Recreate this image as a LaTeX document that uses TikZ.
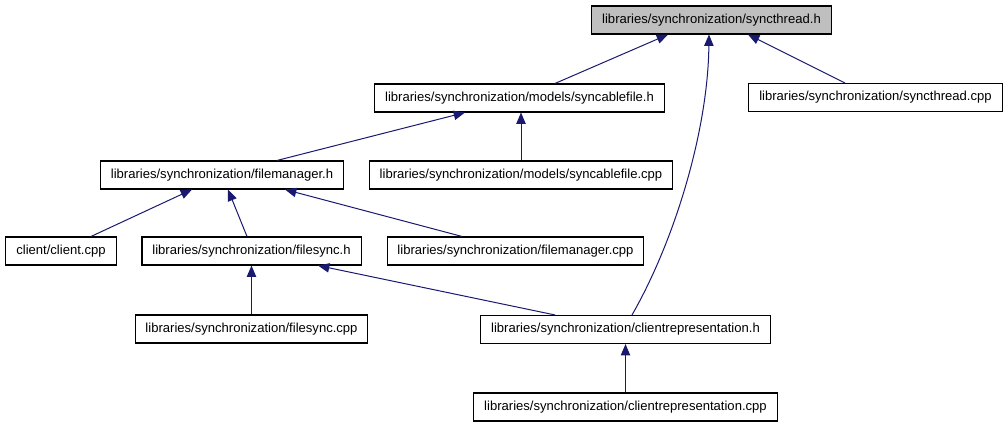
\documentclass[tikz,border=0pt]{standalone}
\usepackage{fontspec}
\setsansfont{Liberation Sans}
\usetikzlibrary{arrows.meta, calc}
\definecolor{dxedge}{HTML}{191970}
\definecolor{dxgray}{HTML}{BFBFBF}

\begin{document}
\begin{tikzpicture}[x=0.75pt, y=-0.75pt,
    file/.style={draw, line width=0.8pt, inner xsep=7.8pt, inner ysep=0pt,
      minimum height=21pt, font=\sffamily\fontsize{9.8}{11}\selectfont},
    incl/.style={draw=dxedge, line width=0.75pt, -{Triangle[length=8.5pt, width=7pt]}}]
    \useasboundingbox (0,0) rectangle (1008,427);

    % Top: the header everything depends on
    \node[file, fill=dxgray] (sth) at (711.5,20) {libraries/synchronization/syncthread.h};

    % Second row
    \node[file] (sfh) at (519.5,98) {libraries/synchronization/models/syncablefile.h};
    \node[file] (stc) at (875.5,97.5) {libraries/synchronization/syncthread.cpp};

    % Third row
    \node[file] (fmh) at (222,175) {libraries/synchronization/filemanager.h};
    \node[file] (sfc) at (521,175) {libraries/synchronization/models/syncablefile.cpp};

    % Fourth row
    \node[file] (cli) at (61,251) {client/client.cpp};
    \node[file] (fsh) at (251.5,251) {libraries/synchronization/filesync.h};
    \node[file] (fmc) at (515.5,251) {libraries/synchronization/filemanager.cpp};

    % Fifth row
    \node[file] (fsc) at (251.5,329) {libraries/synchronization/filesync.cpp};
    \node[file] (crh) at (625.5,329.5) {libraries/synchronization/clientrepresentation.h};

    % Bottom
    \node[file] (crc) at (625.5,407) {libraries/synchronization/clientrepresentation.cpp};

    % Include edges (arrow points at the included file)
    \draw[incl] ($(sfh.north)+(35.5,0)$) -- ($(sth.south)+(-43.5,0)$);
    \draw[incl] ($(stc.north)+(-30.5,0)$) -- ($(sth.south)+(36.5,0)$);
    \draw[incl] ($(crh.north)+(6.5,0)$) .. controls (675,240) and (708,130) .. ($(sth.south)+(-2.5,0)$);
    \draw[incl] ($(fmh.north)+(55,0)$) -- ($(sfh.south)+(-54.5,0)$);
    \draw[incl] ($(sfc.north)+(0,0)$) -- ($(sfh.south)+(1.5,0)$);
    \draw[incl] ($(cli.north)+(30,0)$) -- ($(fmh.south)+(-30,0)$);
    \draw[incl] ($(fsh.north)+(-4.5,0)$) -- ($(fmh.south)+(6,0)$);
    \draw[incl] ($(fmc.north)+(-53.5,0)$) -- ($(fmh.south)+(63,0)$);
    \draw[incl] (fsc.north) -- (fsh.south);
    \draw[incl] ($(crh.north)+(-70.5,0)$) -- ($(fsh.south)+(66.5,0)$);
    \draw[incl] (crc.north) -- (crh.south);
\end{tikzpicture}
\end{document}
